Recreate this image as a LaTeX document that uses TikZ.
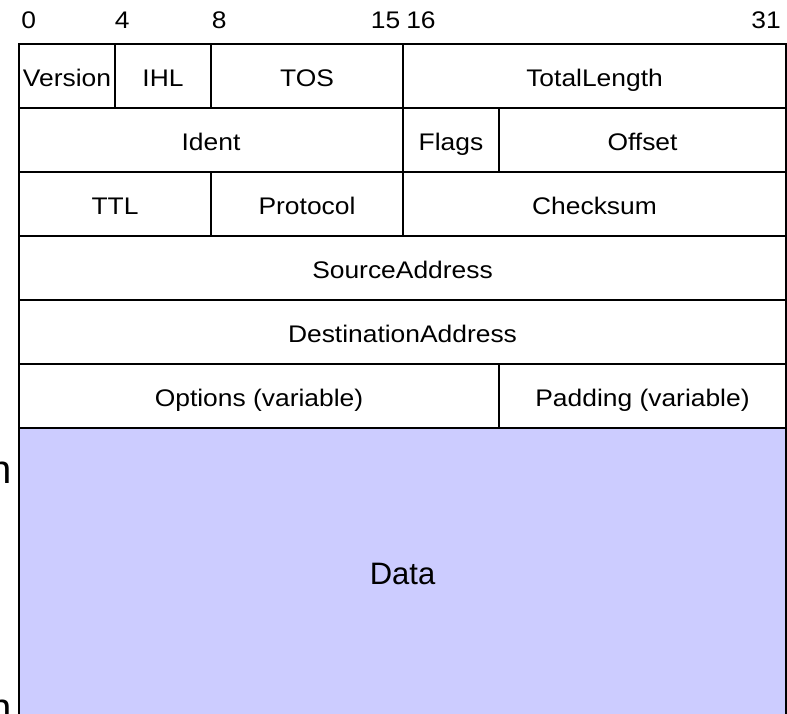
\documentclass[tikz,border=0pt]{standalone}
\usepackage{fontspec}
\setmainfont{Liberation Sans}
\newfontfamily\cellfont[FakeStretch=1.1]{Liberation Sans}
\definecolor{datafill}{RGB}{204,204,255}
\tikzset{
  cell/.style={draw, line width=1.5pt, inner sep=0pt, minimum height=48pt,
    text height=15.75pt, text depth=0pt,
    font=\cellfont\fontsize{18pt}{20pt}\selectfont},
  databox/.style={draw, line width=1.5pt, fill=datafill, inner sep=0pt,
    minimum width=575.25pt, minimum height=217.5pt,
    text height=16.65pt, text depth=0pt,
    font=\fontsize{23.25pt}{26pt}\selectfont},
  bitnum/.style={inner sep=0pt, font=\cellfont\fontsize{18pt}{20pt}\selectfont},
  cutn/.style={inner sep=0pt, anchor=base east, font=\fontsize{30pt}{34pt}\selectfont}
}
\begin{document}
\begin{tikzpicture}[x=0.75pt,y=-0.75pt]
\useasboundingbox (0,0) rectangle (787,713);
\clip (0,0) rectangle (787,713);
% bit numbers
\node[bitnum, anchor=base west] (b0)  at (21,29)    {0};
\node[bitnum, anchor=base west] (b4)  at (114.5,29) {4};
\node[bitnum, anchor=base west] (b8)  at (211.5,29) {8};
\node[bitnum, anchor=base east] (b15) at (400.5,29) {15};
\node[bitnum, anchor=base west] (b16) at (406,29)   {16};
\node[bitnum, anchor=base east] (b31) at (781,29)   {31};
% data
\node[databox] (data) at (402.5,573) {Data};
% row 1
\node[cell, minimum width=72pt]     (version) at (67,76)    {Version};
\node[cell, minimum width=72pt]     (ihl)     at (163,76)   {IHL};
\node[cell, minimum width=144pt]    (tos)     at (307,76)   {TOS};
\node[cell, minimum width=287.25pt] (tlen)    at (594.5,76) {TotalLength};
% row 2
\node[cell, minimum width=288pt]    (ident)   at (211,140)   {Ident};
\node[cell, minimum width=72pt]     (flags)   at (451,140)   {Flags};
\node[cell, minimum width=215.25pt] (offset)  at (642.5,140) {Offset};
% row 3
\node[cell, minimum width=144pt]    (ttl)     at (115,204)   {TTL};
\node[cell, minimum width=144pt]    (proto)   at (307,204)   {Protocol};
\node[cell, minimum width=287.25pt] (csum)    at (594.5,204) {Checksum};
% rows 4, 5
\node[cell, minimum width=575.25pt] (src)     at (402.5,268) {SourceAddress};
\node[cell, minimum width=575.25pt] (dst)     at (402.5,332) {DestinationAddress};
% row 6
\node[cell, minimum width=360pt]    (opts)    at (259,396)   {Options (variable)};
\node[cell, minimum width=215.25pt] (pad)     at (642.5,396) {Padding (variable)};
% letters clipped at the left edge, as in the reference
\node[cutn] (n1) at (12,483) {n};
\node[cutn] (n2) at (12,721) {n};
\end{tikzpicture}
\end{document}
